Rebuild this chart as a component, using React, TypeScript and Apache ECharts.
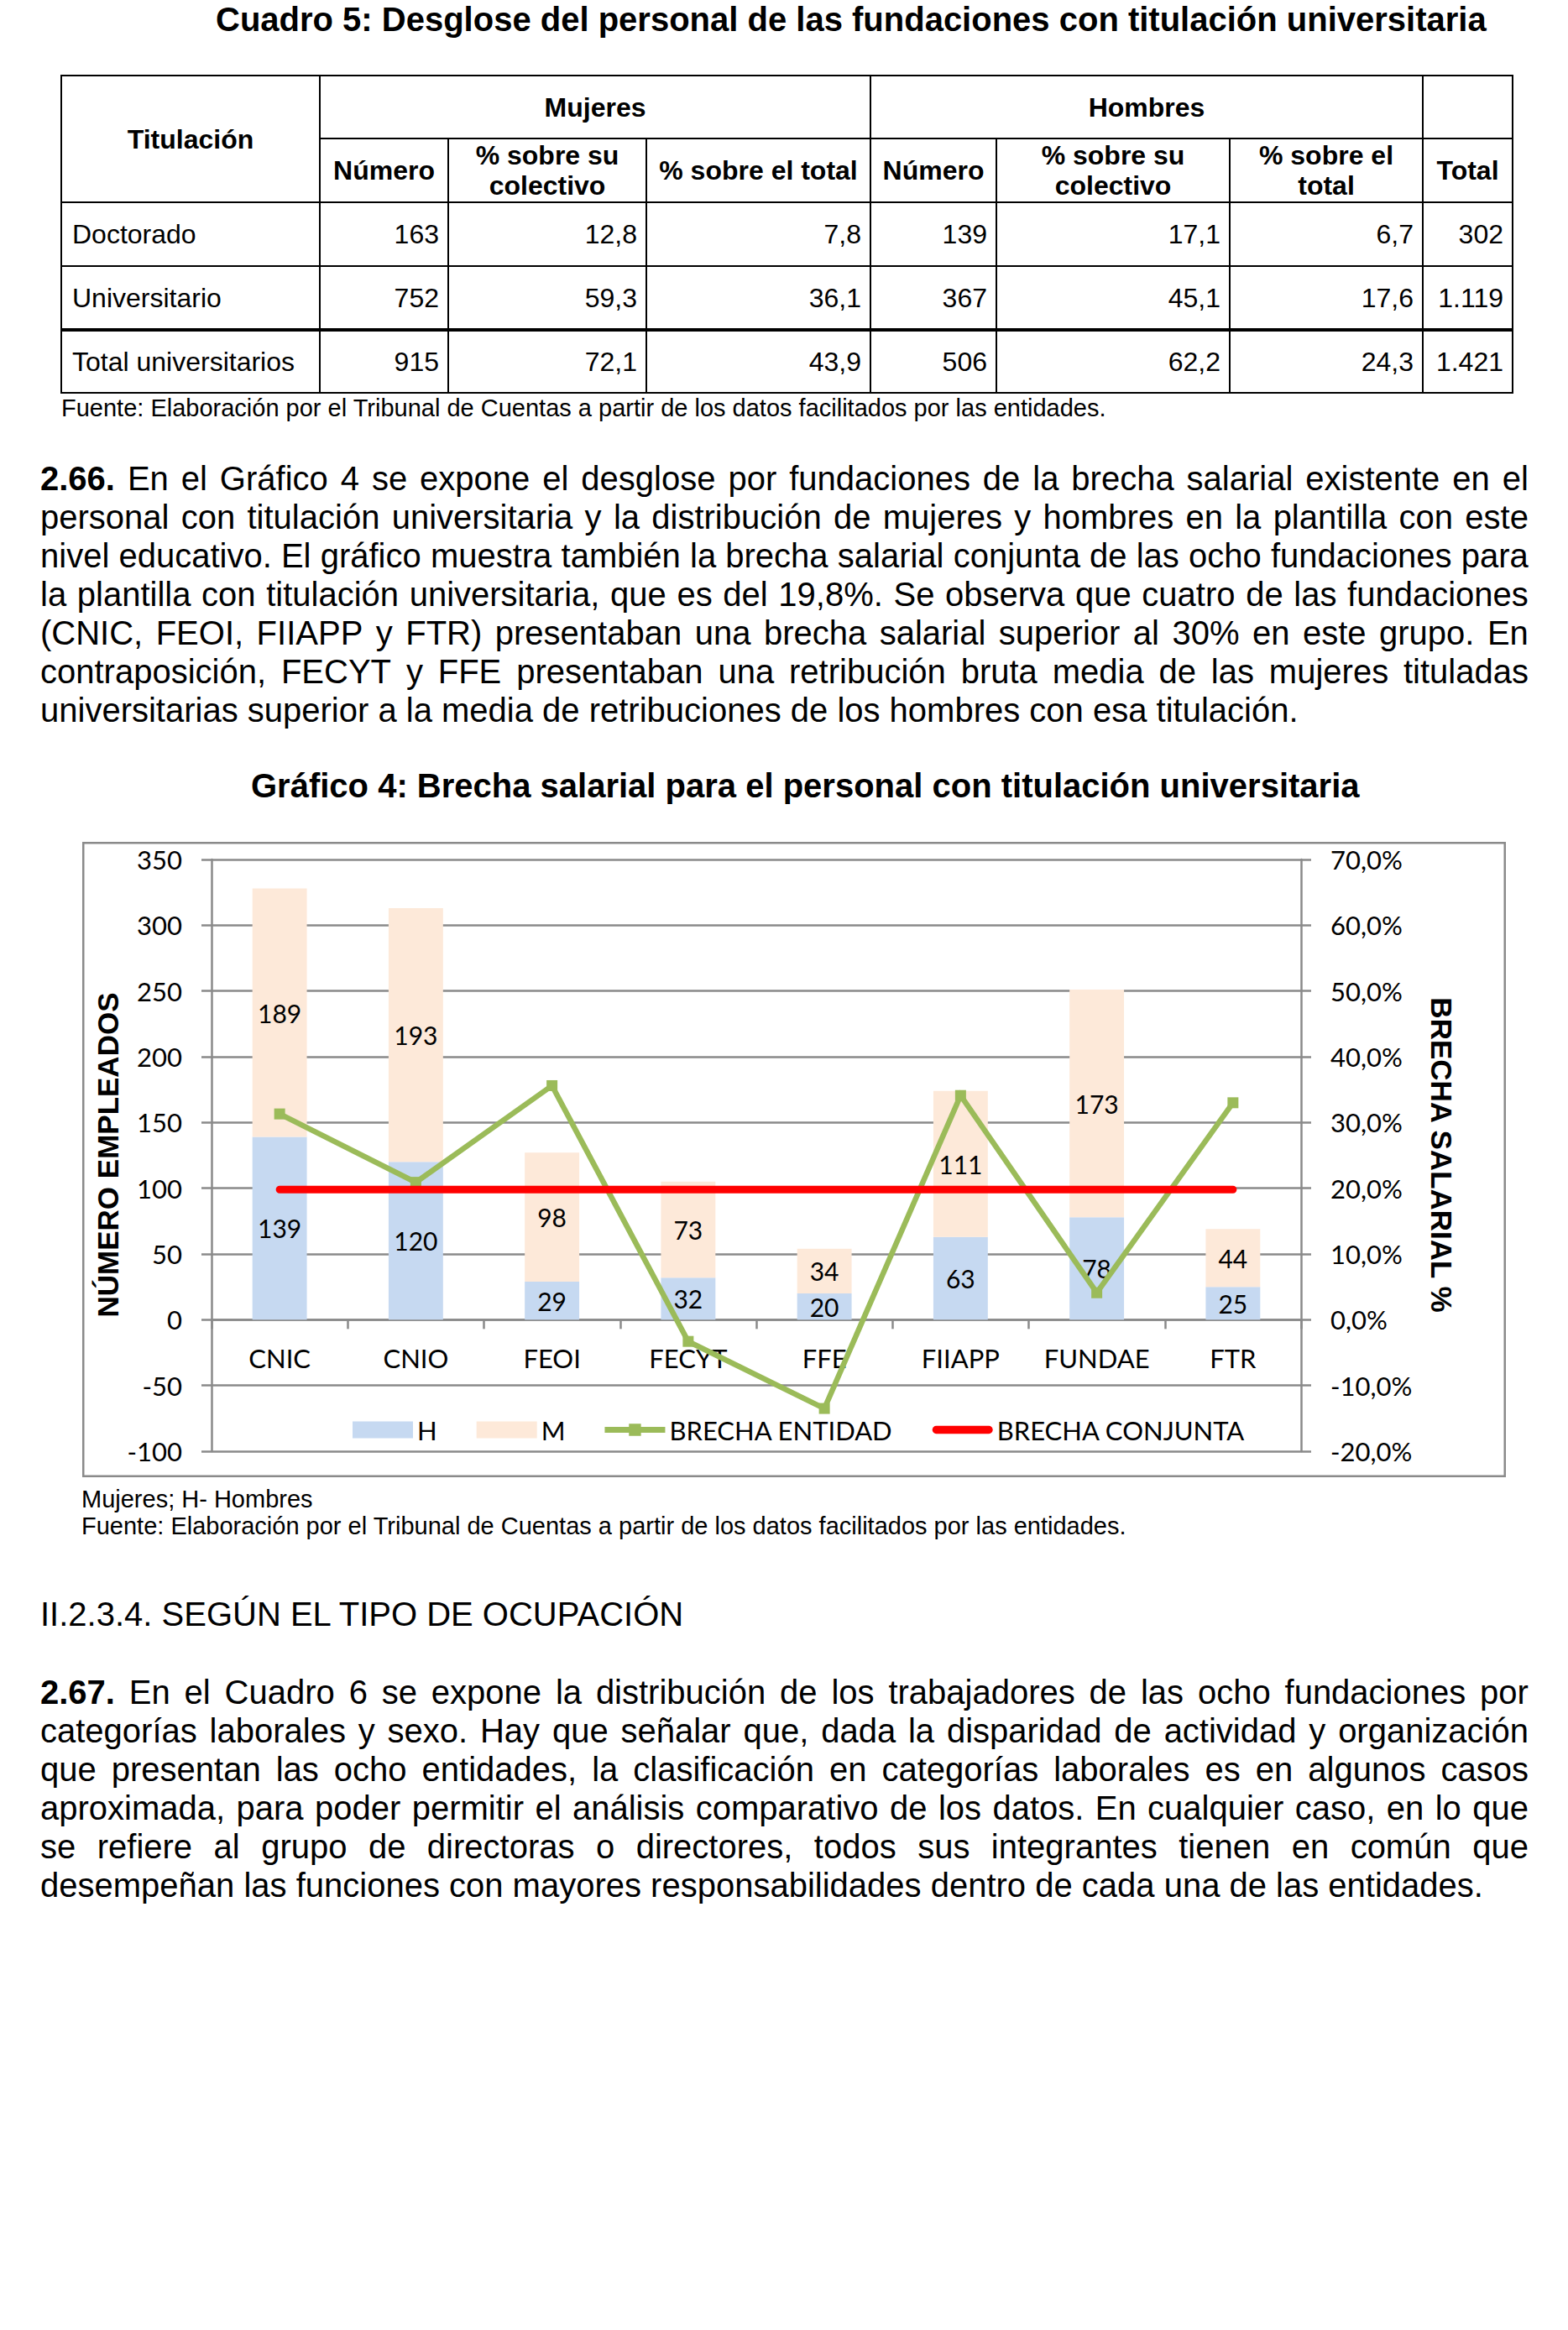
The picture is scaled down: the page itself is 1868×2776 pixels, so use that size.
import React, { useEffect, useRef } from "react";
import * as echarts from "echarts";

// ---------- Table data (Cuadro 5) ----------
const tableRowLabels = ["Doctorado", "Universitario", "Total universitarios"];
const mujeresNumero = ["163", "752", "915"];
const mujeresPctColectivo = ["12,8", "59,3", "72,1"];
const mujeresPctTotal = ["7,8", "36,1", "43,9"];
const hombresNumero = ["139", "367", "506"];
const hombresPctColectivo = ["17,1", "45,1", "62,2"];
const hombresPctTotal = ["6,7", "17,6", "24,3"];
const totalNumero = ["302", "1.119", "1.421"];

// ---------- Chart data (Gráfico 4) ----------
const categories = ["CNIC", "CNIO", "FEOI", "FECYT", "FFE", "FIIAPP", "FUNDAE", "FTR"];
const hombres = [139, 120, 29, 32, 20, 63, 78, 25];
const mujeres = [189, 193, 98, 73, 34, 111, 173, 44];
const brechaEntidad = [31.3, 20.9, 35.6, -3.3, -13.5, 34.1, 4.1, 33.0];
const brechaConjunta = [19.8, 19.8, 19.8, 19.8, 19.8, 19.8, 19.8, 19.8];
const leftAxisMin = -100;
const leftAxisMax = 350;
const leftAxisStep = 50;
const rightAxisMin = -20;
const rightAxisMax = 70;
const rightAxisStep = 10;

// ---------- Texts ----------
const para266 = [
  "2.66. En el Gráfico 4 se expone el desglose por fundaciones de la brecha salarial existente en el",
  "personal con titulación universitaria y la distribución de mujeres y hombres en la plantilla con este",
  "nivel educativo. El gráfico muestra también la brecha salarial conjunta de las ocho fundaciones para",
  "la plantilla con titulación universitaria, que es del 19,8%. Se observa que cuatro de las fundaciones",
  "(CNIC, FEOI, FIIAPP y FTR) presentaban una brecha salarial superior al 30% en este grupo. En",
  "contraposición, FECYT y FFE presentaban una retribución bruta media de las mujeres tituladas",
  "universitarias superior a la media de retribuciones de los hombres con esa titulación.",
];
const para267 = [
  "2.67. En el Cuadro 6 se expone la distribución de los trabajadores de las ocho fundaciones por",
  "categorías laborales y sexo. Hay que señalar que, dada la disparidad de actividad y organización",
  "que presentan las ocho entidades, la clasificación en categorías laborales es en algunos casos",
  "aproximada, para poder permitir el análisis comparativo de los datos. En cualquier caso, en lo que",
  "se refiere al grupo de directoras o directores, todos sus integrantes tienen en común que",
  "desempeñan las funciones con mayores responsabilidades dentro de cada una de las entidades.",
];

const DOC_FONT = "'Liberation Sans', Arial, sans-serif";
const CHART_FONT = "Lato, 'Open Sans', sans-serif";
const GRAY = "#8a8a8a";

const colX = [73, 381, 534, 770, 1037, 1187, 1465, 1695, 1802];
const rowY = [90, 165, 241, 317, 393, 468];

function Paragraph({ lines, top }: { lines: string[]; top: number }) {
  return (
    <>
      {lines.map((line, i) => {
        const isLast = i === lines.length - 1;
        const words = line.split(" ");
        const style: React.CSSProperties = {
          position: "absolute",
          left: 48,
          top: top + i * 46,
          width: 1773,
          height: 46,
          lineHeight: "46px",
          fontSize: 40,
          fontFamily: DOC_FONT,
          color: "#000",
        };
        if (isLast) {
          return (
            <div key={i} style={{ ...style, whiteSpace: "pre" }}>
              {line}
            </div>
          );
        }
        return (
          <div
            key={i}
            style={{ ...style, display: "flex", justifyContent: "space-between", whiteSpace: "nowrap" }}
          >
            {words.map((w, j) => (
              <span key={j} style={{ fontWeight: i === 0 && j === 0 ? "bold" : "normal" }}>
                {w}
              </span>
            ))}
          </div>
        );
      })}
    </>
  );
}

function Cell({
  c0,
  c1,
  r0,
  r1,
  text,
  bold,
  align,
}: {
  c0: number;
  c1: number;
  r0: number;
  r1: number;
  text: string;
  bold?: boolean;
  align: "left" | "center" | "right";
}) {
  return (
    <div
      style={{
        position: "absolute",
        left: colX[c0],
        top: rowY[r0],
        width: colX[c1] - colX[c0],
        height: rowY[r1] - rowY[r0],
        display: "flex",
        alignItems: "center",
        justifyContent: align === "left" ? "flex-start" : align === "right" ? "flex-end" : "center",
        textAlign: align,
        boxSizing: "border-box",
        paddingLeft: align === "left" ? 13 : 0,
        paddingRight: align === "right" ? 11 : 0,
        fontFamily: DOC_FONT,
        fontSize: 32,
        lineHeight: "36px",
        fontWeight: bold ? "bold" : "normal",
        whiteSpace: "pre-line",
        color: "#000",
      }}
    >
      {text}
    </div>
  );
}

function Table() {
  const full = [colX[0], colX[8]];
  const hLines = [
    { y: rowY[0], x1: full[0], x2: full[1], w: 2 },
    { y: rowY[1], x1: colX[1], x2: full[1], w: 2 },
    { y: rowY[2], x1: full[0], x2: full[1], w: 2 },
    { y: rowY[3], x1: full[0], x2: full[1], w: 2 },
    { y: rowY[4], x1: full[0], x2: full[1], w: 4 },
    { y: rowY[5], x1: full[0], x2: full[1], w: 2 },
  ];
  const vLines = [
    { x: colX[0], y1: rowY[0] },
    { x: colX[1], y1: rowY[0] },
    { x: colX[2], y1: rowY[1] },
    { x: colX[3], y1: rowY[1] },
    { x: colX[4], y1: rowY[0] },
    { x: colX[5], y1: rowY[1] },
    { x: colX[6], y1: rowY[1] },
    { x: colX[7], y1: rowY[0] },
    { x: colX[8], y1: rowY[0] },
  ];
  const dataCols = [
    mujeresNumero,
    mujeresPctColectivo,
    mujeresPctTotal,
    hombresNumero,
    hombresPctColectivo,
    hombresPctTotal,
    totalNumero,
  ];
  const subHeaders = [
    "Número",
    "% sobre su\ncolectivo",
    "% sobre el total",
    "Número",
    "% sobre su\ncolectivo",
    "% sobre el\ntotal",
    "Total",
  ];
  return (
    <>
      <Cell c0={0} c1={1} r0={0} r1={2} text="Titulación" bold align="center" />
      <Cell c0={1} c1={4} r0={0} r1={1} text="Mujeres" bold align="center" />
      <Cell c0={4} c1={7} r0={0} r1={1} text="Hombres" bold align="center" />
      {subHeaders.map((t, i) => (
        <Cell key={"sh" + i} c0={i + 1} c1={i + 2} r0={1} r1={2} text={t} bold align="center" />
      ))}
      {tableRowLabels.map((lab, r) => (
        <React.Fragment key={"r" + r}>
          <Cell c0={0} c1={1} r0={r + 2} r1={r + 3} text={lab} align="left" />
          {dataCols.map((col, c) => (
            <Cell key={"d" + c} c0={c + 1} c1={c + 2} r0={r + 2} r1={r + 3} text={col[r]} align="right" />
          ))}
        </React.Fragment>
      ))}
      {hLines.map((l, i) => (
        <div
          key={"h" + i}
          style={{
            position: "absolute",
            left: l.x1 - 1,
            top: l.y - l.w / 2,
            width: l.x2 - l.x1 + 2,
            height: l.w,
            background: "#000",
          }}
        />
      ))}
      {vLines.map((l, i) => (
        <div
          key={"v" + i}
          style={{
            position: "absolute",
            left: l.x - 1,
            top: l.y1 - 1,
            width: 2,
            height: rowY[5] - l.y1 + 2,
            background: "#000",
          }}
        />
      ))}
    </>
  );
}

function Chart() {
  const ref = useRef<HTMLDivElement>(null);
  useEffect(() => {
    if (!ref.current) return;
    const chart = echarts.init(ref.current, undefined, { renderer: "svg" });
    const labelStyle = {
      show: true,
      position: "inside" as const,
      color: "#000",
      fontSize: 30,
      fontFamily: CHART_FONT,
      textBorderWidth: 0,
    };
    const axisLineStyle = { color: GRAY, width: 2.5 };
    const gridHeight = 705;
    // distance from the grid bottom up to the zero line, given by the left axis range
    const zeroOffset = (gridHeight * (0 - leftAxisMin)) / (leftAxisMax - leftAxisMin);
    const option: any = {
      animation: false,
      textStyle: { fontFamily: CHART_FONT },
      grid: {
        left: 154,
        top: 21,
        width: 1298,
        height: gridHeight,
        containLabel: false,
        outerBoundsMode: "none",
      },
      legend: {
        left: 317,
        top: 680,
        itemWidth: 72,
        itemHeight: 20,
        itemGap: 47,
        textStyle: { fontSize: 31, color: "#000", fontFamily: CHART_FONT },
        data: [
          { name: "H", icon: "rect" },
          { name: "M", icon: "rect" },
          {
            name: "BRECHA ENTIDAD",
            icon: "path://M0,3.5 L70,3.5 L70,10.5 L0,10.5 Z M28,0 L42,0 L42,14 L28,14 Z",
          },
          {
            name: "BRECHA CONJUNTA",
            icon: "path://M4.5,0 L65.5,0 A4.5,4.5 0 0 1 65.5,9 L4.5,9 A4.5,4.5 0 0 1 4.5,0 Z",
          },
        ],
      },
      xAxis: {
        type: "category",
        data: categories,
        position: "bottom",
        offset: -zeroOffset,
        axisLine: { onZero: false, lineStyle: axisLineStyle },
        axisTick: { show: true, length: 11, lineStyle: axisLineStyle },
        axisLabel: { color: "#000", fontSize: 31, margin: 30, interval: 0, fontFamily: CHART_FONT },
        splitLine: { show: false },
      },
      yAxis: [
        {
          type: "value",
          min: leftAxisMin,
          max: leftAxisMax,
          interval: leftAxisStep,
          axisLine: { show: true, lineStyle: axisLineStyle },
          axisTick: { show: true, length: 12, lineStyle: axisLineStyle },
          axisLabel: { color: "#000", fontSize: 31, margin: 35, fontFamily: CHART_FONT },
          splitLine: { show: true, lineStyle: { color: GRAY, width: 2.5 } },
        },
        {
          type: "value",
          position: "right",
          min: rightAxisMin,
          max: rightAxisMax,
          interval: rightAxisStep,
          axisLine: { show: true, lineStyle: axisLineStyle },
          axisTick: { show: true, length: 12, lineStyle: axisLineStyle },
          axisLabel: {
            color: "#000",
            fontSize: 31,
            margin: 35,
            fontFamily: CHART_FONT,
            formatter: (v: number) => v.toFixed(1).replace(".", ",") + "%",
          },
          splitLine: { show: false },
        },
      ],
      series: [
        {
          name: "H",
          type: "bar",
          stack: "total",
          data: hombres,
          barWidth: "40%",
          itemStyle: { color: "#C6D9F1" },
          label: labelStyle,
        },
        {
          name: "M",
          type: "bar",
          stack: "total",
          data: mujeres,
          barWidth: "40%",
          itemStyle: { color: "#FDE9D9" },
          label: labelStyle,
        },
        {
          name: "BRECHA ENTIDAD",
          type: "line",
          yAxisIndex: 1,
          data: brechaEntidad,
          symbol: "rect",
          symbolSize: 13,
          lineStyle: { color: "#9BBB59", width: 6.5, join: "miter" },
          itemStyle: { color: "#9BBB59" },
          z: 3,
        },
        {
          name: "BRECHA CONJUNTA",
          type: "line",
          yAxisIndex: 1,
          data: brechaConjunta,
          symbol: "none",
          lineStyle: { color: "#FF0000", width: 9, cap: "round" },
          itemStyle: { color: "#FF0000" },
          z: 4,
        },
      ],
      graphic: [
        {
          type: "rect",
          shape: { x: 1.25, y: 1.25, width: 1693.5, height: 754.5 },
          style: { fill: "none", stroke: GRAY, lineWidth: 2.5 },
          silent: true,
        },
        {
          type: "text",
          x: 30,
          y: 373,
          rotation: Math.PI / 2,
          style: {
            text: "NÚMERO EMPLEADOS",
            align: "center",
            verticalAlign: "middle",
            fontFamily: DOC_FONT,
            fontWeight: "bold",
            fontSize: 35,
            fill: "#000",
          },
        },
        {
          type: "text",
          x: 1619,
          y: 373,
          rotation: -Math.PI / 2,
          style: {
            text: "BRECHA SALARIAL %",
            align: "center",
            verticalAlign: "middle",
            fontFamily: DOC_FONT,
            fontWeight: "bold",
            fontSize: 35,
            fill: "#000",
          },
        },
      ],
    };
    chart.setOption(option);
    return () => chart.dispose();
  }, []);
  return (
    <div
      ref={ref}
      style={{ position: "absolute", left: 98, top: 1003, width: 1696, height: 757 }}
    />
  );
}

export default function App() {
  const base: React.CSSProperties = {
    position: "absolute",
    fontFamily: DOC_FONT,
    color: "#000",
    whiteSpace: "pre",
  };
  return (
    <div
      style={{
        position: "absolute",
        left: 0,
        top: 0,
        width: 1868,
        height: 2776,
        background: "#fff",
        overflow: "hidden",
      }}
    >
      <div style={{ ...base, left: 257, top: 0, fontSize: 40, lineHeight: "46px", fontWeight: "bold" }}>
        Cuadro 5: Desglose del personal de las fundaciones con titulación universitaria
      </div>
      <Table />
      <div style={{ ...base, left: 73, top: 470, fontSize: 29, lineHeight: "33px" }}>
        Fuente: Elaboración por el Tribunal de Cuentas a partir de los datos facilitados por las entidades.
      </div>
      <Paragraph lines={para266} top={547} />
      <div style={{ ...base, left: 299, top: 913, fontSize: 40, lineHeight: "46px", fontWeight: "bold" }}>
        Gráfico 4: Brecha salarial para el personal con titulación universitaria
      </div>
      <Chart />
      <div style={{ ...base, left: 97, top: 1770, fontSize: 29, lineHeight: "33px" }}>
        Mujeres; H- Hombres
      </div>
      <div style={{ ...base, left: 97, top: 1802, fontSize: 29, lineHeight: "33px" }}>
        Fuente: Elaboración por el Tribunal de Cuentas a partir de los datos facilitados por las entidades.
      </div>
      <div style={{ ...base, left: 48, top: 1900, fontSize: 40, lineHeight: "46px" }}>
        II.2.3.4. SEGÚN EL TIPO DE OCUPACIÓN
      </div>
      <Paragraph lines={para267} top={1993} />
    </div>
  );
}
